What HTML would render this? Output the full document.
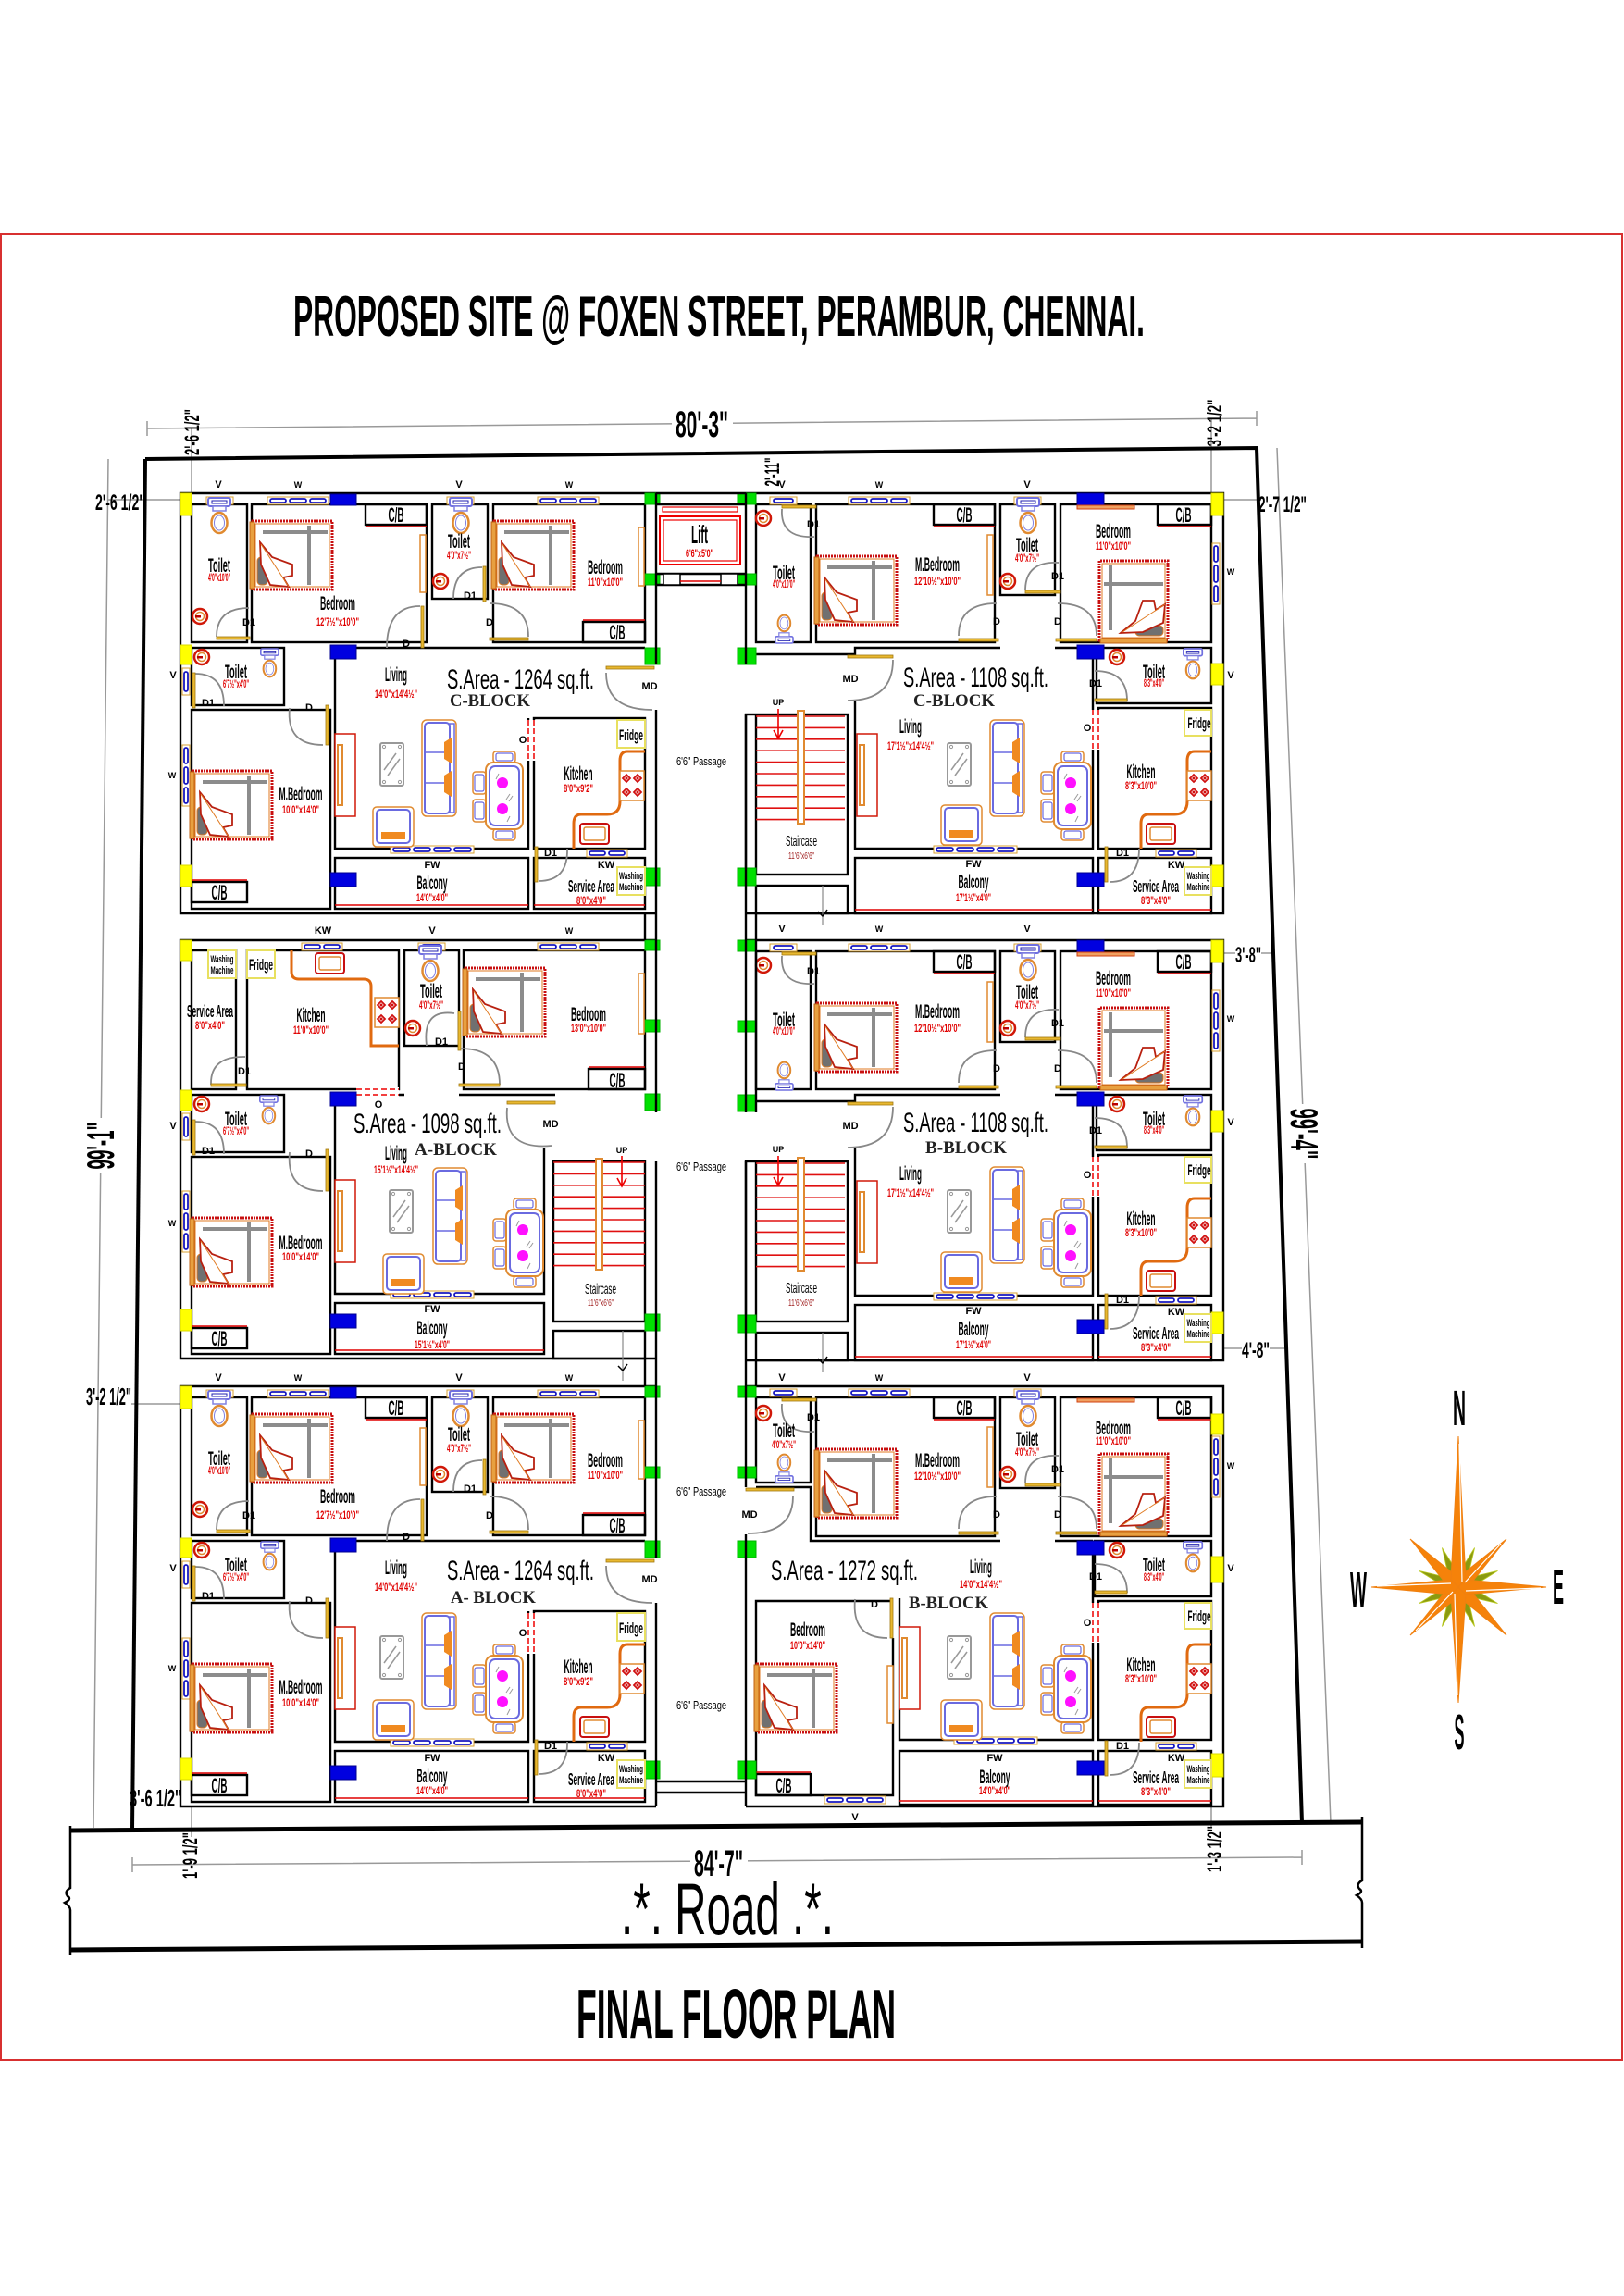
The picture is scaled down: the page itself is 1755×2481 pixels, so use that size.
<!DOCTYPE html>
<html><head><meta charset="utf-8"><title>Final Floor Plan</title>
<style>html,body{margin:0;padding:0;background:#fff}svg{display:block}</style>
</head><body>
<svg xmlns="http://www.w3.org/2000/svg" xmlns:xlink="http://www.w3.org/1999/xlink" width="1755" height="2481" viewBox="0 0 1755 2481">
<style>
text{font-family:"Liberation Sans",sans-serif}
.w{fill:none;stroke:#000;stroke-width:2.4}
.lb{font-weight:bold;font-size:21px;text-anchor:middle;fill:#000}
.rd{font-weight:bold;font-size:12px;text-anchor:middle;fill:#e00000}
.sm{font-weight:bold;font-size:11px;text-anchor:middle;fill:#000}
.sa{font-size:30px;fill:#000}
.bk{font-family:"Liberation Serif",serif;font-weight:bold;font-size:19px;fill:#222}
.cb{font-weight:bold;font-size:22px;text-anchor:middle;fill:#000}
.dm{font-weight:bold;fill:#000}
.dl{fill:#e8b830;stroke:#a07810;stroke-width:.8}
.da{fill:none;stroke:#888;stroke-width:1.8}
.gy{stroke:#999;stroke-width:1.5;fill:none}
.yel{fill:#ffff00;stroke:#d8d800}
.grn{fill:#00e000;stroke:#00b000}
.blu{fill:#0000e0;stroke:#000090}
.rl{stroke:#e00000;stroke-width:1.5}
.wb{fill:#fff;stroke:#e08a30;stroke-width:1.5}
.bx{fill:#fff;stroke:#e8e060;stroke-width:2}
.ct{fill:none;stroke:#e06a10;stroke-width:3}
.tr{stroke:#e01010;stroke-width:1.6;fill:none}
</style>
<defs>
<g id="bedL">
<rect x="1" y="1" width="86" height="74" fill="#fff" stroke="#c81010" stroke-width="3" stroke-dasharray="2 1"/>
<rect x="4" y="4" width="80" height="68" fill="none" stroke="#e07a20" stroke-width="1"/>
<line x1="12" y1="13" x2="82" y2="13" stroke="#8c8c8c" stroke-width="4"/>
<line x1="62" y1="6" x2="62" y2="70" stroke="#8c8c8c" stroke-width="4"/>
<rect x="6" y="40" width="11" height="30" rx="4" fill="#707070" stroke="#e07a20" stroke-width="1"/>
<path d="M9 24 L22 40 L44 48 L44 60 L34 62 L40 72 L20 70 L10 48 Z" fill="#fff" stroke="#b82010" stroke-width="1.8"/>
<line x1="10" y1="26" x2="40" y2="72" stroke="#e07a20" stroke-width="1"/>
<rect x="-2" y="2" width="5" height="72" fill="#e8a040" stroke="#c06010" stroke-width="1"/>
</g>
<g id="wc">
<rect x="1" y="0" width="24" height="9" rx="2" fill="#fff" stroke="#7070e0" stroke-width="2"/>
<rect x="5" y="3" width="16" height="3" fill="none" stroke="#2020b0" stroke-width="1"/>
<rect x="6" y="9" width="14" height="5" fill="#fff" stroke="#8080e0" stroke-width="1.5"/>
<ellipse cx="13" cy="27" rx="8.5" ry="11" fill="#fff" stroke="#e08a30" stroke-width="2.5"/>
<ellipse cx="13" cy="27" rx="5.5" ry="8" fill="none" stroke="#8080e0" stroke-width="1"/>
</g>
<g id="bs">
<circle cx="9" cy="9" r="8" fill="#fff" stroke="#d01808" stroke-width="2.5"/>
<circle cx="9" cy="9" r="4.5" fill="none" stroke="#e08a30" stroke-width="1.5"/>
<rect x="4" y="8" width="6" height="2.5" fill="#b00"/>
</g>
<g id="sofa">
<rect x="0" y="0" width="37" height="104" rx="5" fill="#fff" stroke="#e08a30" stroke-width="1.5"/>
<rect x="3" y="3" width="27" height="98" rx="4" fill="none" stroke="#6a6ae0" stroke-width="2"/>
<line x1="3" y1="35" x2="30" y2="35" stroke="#6a6ae0" stroke-width="1.5"/>
<line x1="3" y1="68" x2="30" y2="68" stroke="#6a6ae0" stroke-width="1.5"/>
<rect x="30" y="4" width="5" height="96" fill="none" stroke="#6a6ae0" stroke-width="1.5"/>
<path d="M24 24 l8 -5 v28 l-8 -5 z M24 60 l8 -5 v28 l-8 -5 z" fill="#f08a20"/>
</g>
<g id="arm">
<rect x="0" y="0" width="44" height="43" rx="4" fill="#fff" stroke="#e08a30" stroke-width="1.5"/>
<rect x="4" y="3" width="36" height="36" rx="4" fill="none" stroke="#6a6ae0" stroke-width="2"/>
<rect x="9" y="27" width="26" height="8" fill="#f08a20"/>
</g>
<g id="ctb">
<rect x="1" y="1" width="25" height="46" rx="2" fill="#fff" stroke="#999" stroke-width="2"/>
<line x1="5" y1="30" x2="18" y2="12" stroke="#999" stroke-width="1.5"/>
<line x1="9" y1="36" x2="22" y2="18" stroke="#999" stroke-width="1.5"/>
<circle cx="5" cy="5" r="1.6" fill="none" stroke="#999"/><circle cx="22" cy="5" r="1.6" fill="none" stroke="#999"/>
<circle cx="5" cy="43" r="1.6" fill="none" stroke="#999"/><circle cx="22" cy="43" r="1.6" fill="none" stroke="#999"/>
</g>
<g id="dn">
<rect x="22" y="0" width="24" height="12" rx="3" fill="#fff" stroke="#e08a30" stroke-width="1.5"/>
<rect x="25" y="2" width="18" height="8" rx="2" fill="none" stroke="#6a6ae0" stroke-width="1.2"/>
<rect x="22" y="84" width="24" height="12" rx="3" fill="#fff" stroke="#e08a30" stroke-width="1.5"/>
<rect x="25" y="86" width="18" height="8" rx="2" fill="none" stroke="#6a6ae0" stroke-width="1.2"/>
<rect x="0" y="22" width="14" height="24" rx="3" fill="#fff" stroke="#e08a30" stroke-width="1.5"/>
<rect x="2" y="25" width="10" height="18" rx="2" fill="none" stroke="#6a6ae0" stroke-width="1.2"/>
<rect x="0" y="52" width="14" height="24" rx="3" fill="#fff" stroke="#e08a30" stroke-width="1.5"/>
<rect x="2" y="55" width="10" height="18" rx="2" fill="none" stroke="#6a6ae0" stroke-width="1.2"/>
<rect x="14" y="12" width="40" height="72" rx="8" fill="#fff" stroke="#e08a30" stroke-width="2"/>
<rect x="18" y="16" width="32" height="64" rx="6" fill="none" stroke="#6a6ae0" stroke-width="2"/>
<line x1="28" y1="24" x2="25" y2="30" stroke="#999"/><line x1="40" y1="46" x2="36" y2="52" stroke="#999"/><line x1="43" y1="48" x2="39" y2="54" stroke="#999"/><line x1="40" y1="70" x2="37" y2="76" stroke="#999"/>
<circle cx="32" cy="34" r="6" fill="#ff10ff"/>
<circle cx="32" cy="62" r="6" fill="#ff10ff"/>
</g>
<g id="tv">
<rect x="0" y="0" width="22" height="89" fill="#fff" stroke="#d01808" stroke-width="1.5"/>
<rect x="3" y="12" width="5" height="65" fill="#fff" stroke="#e08a30" stroke-width="2"/>
</g>
<g id="st">
<rect x="0" y="0" width="26" height="32" fill="#fff" stroke="#e08a30" stroke-width="1.5"/>
<path d="M7 4 l4 4 -4 4 -4 -4z M19 4 l4 4 -4 4 -4 -4z M7 19 l4 4 -4 4 -4 -4z M19 19 l4 4 -4 4 -4 -4z" fill="none" stroke="#d01010" stroke-width="1.8"/>
<circle cx="7" cy="8" r="1.5" fill="#d01010"/><circle cx="19" cy="8" r="1.5" fill="#d01010"/><circle cx="7" cy="23" r="1.5" fill="#d01010"/><circle cx="19" cy="23" r="1.5" fill="#d01010"/>
</g>
<g id="sk">
<rect x="0" y="0" width="31" height="22" rx="3" fill="#fff" stroke="#c81010" stroke-width="2"/>
<rect x="4" y="4" width="23" height="14" rx="2" fill="none" stroke="#e08a30" stroke-width="1.5"/>
</g>
<g id="wn1"><rect x="0" y="0" width="29" height="8" fill="#fff" stroke="#d8a030"/><rect x="4" y="2" width="21" height="4" rx="2" fill="none" stroke="#1818c0" stroke-width="1.8"/></g>
<g id="wn2"><rect x="0" y="0" width="44" height="8" fill="#fff" stroke="#d8a030"/><rect x="3" y="2" width="17" height="4" rx="2" fill="none" stroke="#1818c0" stroke-width="1.8"/><rect x="24" y="2" width="17" height="4" rx="2" fill="none" stroke="#1818c0" stroke-width="1.8"/></g>
<g id="wn3"><rect x="0" y="0" width="66" height="8" fill="#fff" stroke="#d8a030"/><rect x="3" y="2" width="17" height="4" rx="2" fill="none" stroke="#1818c0" stroke-width="1.8"/><rect x="24" y="2" width="18" height="4" rx="2" fill="none" stroke="#1818c0" stroke-width="1.8"/><rect x="46" y="2" width="17" height="4" rx="2" fill="none" stroke="#1818c0" stroke-width="1.8"/></g>
<g id="wn4"><rect x="0" y="0" width="90" height="8" fill="#fff" stroke="#d8a030"/><rect x="3" y="2" width="18" height="4" rx="2" fill="none" stroke="#1818c0" stroke-width="1.8"/><rect x="25" y="2" width="18" height="4" rx="2" fill="none" stroke="#1818c0" stroke-width="1.8"/><rect x="47" y="2" width="18" height="4" rx="2" fill="none" stroke="#1818c0" stroke-width="1.8"/><rect x="69" y="2" width="18" height="4" rx="2" fill="none" stroke="#1818c0" stroke-width="1.8"/></g>
<g id="wv1"><rect x="0" y="0" width="8" height="29" fill="#fff" stroke="#d8a030"/><rect x="2" y="4" width="4" height="21" rx="2" fill="none" stroke="#1818c0" stroke-width="1.8"/></g>
<g id="wv3"><rect x="0" y="0" width="8" height="66" fill="#fff" stroke="#d8a030"/><rect x="2" y="3" width="4" height="17" rx="2" fill="none" stroke="#1818c0" stroke-width="1.8"/><rect x="2" y="24" width="4" height="18" rx="2" fill="none" stroke="#1818c0" stroke-width="1.8"/><rect x="2" y="46" width="4" height="17" rx="2" fill="none" stroke="#1818c0" stroke-width="1.8"/></g>

<!-- ===== Unit type A (row1 left; reused for row3 left) ===== -->
<g id="gA">
<path class="w" d="M709 533 H195 V987 H709"/>
<rect class="w" x="207" y="545" width="60" height="149"/>
<rect class="w" x="272" y="545" width="189" height="149"/>
<rect class="w" x="395" y="545" width="66" height="22"/><line class="rl" x1="395" y1="569" x2="461" y2="569"/>
<rect class="w" x="467" y="545" width="60" height="102"/>
<rect class="w" x="533" y="545" width="164" height="149"/>
<rect class="w" x="630" y="672" width="67" height="22"/><line class="rl" x1="630" y1="670" x2="697" y2="670"/>
<rect class="w" x="207" y="700" width="100" height="62"/>
<rect class="w" x="207" y="767" width="150" height="215"/>
<path class="w" d="M697 700 H362 V917 H571 V776"/>
<rect class="w" x="577" y="776" width="120" height="141"/>
<rect class="w" x="362" y="927" width="209" height="55"/>
<rect class="w" x="577" y="927" width="120" height="55"/>
<rect class="w" x="207" y="953" width="60" height="22"/><line class="rl" x1="207" y1="951" x2="267" y2="951"/>
<line class="rl" x1="362" y1="978" x2="571" y2="978"/><line class="rl" x1="577" y1="978" x2="697" y2="978"/>
<rect x="568" y="778" width="12" height="44" fill="#fff"/>
<path d="M571 778 V822 M577 778 V822" stroke="#e00" stroke-width="1.5" stroke-dasharray="6 3"/>
<path class="da" d="M269 657 Q234 657 234 688"/><rect class="dl" x="234" y="688" width="36" height="3"/>
<path class="da" d="M454 655 Q418 655 418 700"/><rect class="dl" x="455" y="655" width="3" height="45"/>
<path class="da" d="M529 652 Q571 652 571 688"/><rect class="dl" x="529" y="689" width="42" height="3"/>
<path class="da" d="M521 613 Q490 613 490 647"/><rect class="dl" x="522" y="612" width="3" height="38"/>
<path class="da" d="M211 728 Q242 728 242 763"/><rect class="dl" x="208" y="727" width="3" height="38"/>
<path class="da" d="M313 765 Q309 805 349 805"/><rect class="dl" x="352" y="762" width="3" height="43"/>
<path class="da" d="M655 727 Q655 767 705 767"/><rect class="dl" x="655" y="720" width="52" height="3"/>
<path class="da" d="M613 917 Q614 952 582 952"/><rect class="dl" x="578" y="915" width="3" height="38"/>
<rect class="yel" x="195" y="533" width="12" height="24"/>
<rect class="yel" x="195" y="697" width="12" height="21"/>
<rect class="yel" x="195" y="935" width="12" height="23"/>
<rect class="grn" x="697" y="533" width="16" height="12"/>
<rect class="grn" x="697" y="620" width="16" height="12"/>
<rect class="grn" x="697" y="700" width="16" height="18"/>
<rect class="grn" x="697" y="938" width="16" height="19"/>
<rect class="blu" x="357" y="534" width="28" height="12"/>
<rect class="blu" x="357" y="697" width="28" height="15"/>
<rect class="blu" x="357" y="943" width="28" height="15"/>
<use xlink:href="#wn1" x="223" y="537"/><use xlink:href="#wn3" x="289" y="537"/>
<use xlink:href="#wn1" x="483" y="537"/><use xlink:href="#wn3" x="581" y="537"/>
<use xlink:href="#wn4" x="422" y="914"/><use xlink:href="#wn2" x="634" y="918"/>
<use xlink:href="#wv1" x="197" y="722"/><use xlink:href="#wv3" x="197" y="805"/>
<use xlink:href="#bedL" x="272" y="562"/>
<use xlink:href="#bedL" x="533" y="562"/>
<use xlink:href="#bedL" x="207" y="832"/>
<use xlink:href="#wc" x="224" y="538"/><use xlink:href="#bs" x="207" y="657"/>
<use xlink:href="#wc" x="485" y="538"/><use xlink:href="#bs" x="467" y="619"/>
<use xlink:href="#wc" transform="translate(281,701) scale(.8)"/><use xlink:href="#bs" x="209" y="701"/>
<rect class="wb" x="454" y="578" width="6" height="62"/><rect class="wb" x="690" y="570" width="6" height="63"/>
<use xlink:href="#tv" x="362" y="793"/>
<use xlink:href="#ctb" x="410" y="802"/>
<use xlink:href="#sofa" x="456" y="778"/>
<use xlink:href="#arm" x="403" y="872"/>
<use xlink:href="#dn" x="511" y="812"/>
<path class="ct" d="M697 812 H678 Q670 812 670 822 V866 Q670 880 656 880 H628 Q620 880 620 890 V917"/>
<use xlink:href="#st" x="670" y="833"/><use xlink:href="#sk" x="627" y="890"/>
<rect class="bx" x="667" y="778" width="30" height="30"/>
<rect class="bx" x="667" y="937" width="30" height="30"/>
</g>

<!-- ===== Unit type B (row1 right; reused for row2 right) ===== -->
<g id="gB">
<path class="w" d="M806 533 H1322 V987 H806"/>
<rect class="w" x="817" y="545" width="59" height="149"/>
<rect class="w" x="882" y="545" width="193" height="149"/>
<rect class="w" x="1009" y="545" width="66" height="22"/><line class="rl" x1="1009" y1="569" x2="1075" y2="569"/>
<rect class="w" x="1081" y="545" width="59" height="98"/>
<rect class="w" x="1146" y="545" width="163" height="149"/>
<rect class="w" x="1251" y="545" width="58" height="22"/><line class="rl" x1="1251" y1="569" x2="1309" y2="569"/>
<path class="w" d="M817 707 H924 V700 H1081 M1140 700 H1181"/>
<path class="w" d="M924 757 V917 H1181 V700"/>
<rect class="w" x="1185" y="700" width="124" height="60"/>
<rect class="w" x="1187" y="765" width="122" height="152"/>
<rect class="w" x="806" y="772" width="110" height="173"/>
<line class="w" x1="817" y1="772" x2="817" y2="945"/>
<rect class="w" x="924" y="927" width="257" height="60"/>
<rect class="w" x="1187" y="927" width="122" height="60"/>
<rect class="w" x="817" y="957" width="99" height="30"/>
<line x1="889" y1="957" x2="889" y2="1000" stroke="#888" stroke-width="1.2"/><path d="M884 985 L889 990 L894 983" stroke="#000" stroke-width="1.5" fill="none"/>
<line class="rl" x1="924" y1="983" x2="1181" y2="983"/><line class="rl" x1="1187" y1="983" x2="1309" y2="983"/>
<path class="tr" d="M817 774 H913 M817 786.4 H913 M817 798.8 H913 M817 811.2 H913 M817 823.6 H913 M817 836 H913 M817 848.4 H913 M817 860.8 H913 M817 873.2 H913 M817 885.6 H913"/>
<rect x="862" y="768" width="7" height="122" fill="#fff" stroke="#e08a30" stroke-width="2"/>
<path d="M841 766 V797 M836 789 L841 798 L846 789" stroke="#e00" stroke-width="1.6" fill="none"/>
<rect x="1179" y="767" width="10" height="43" fill="#fff"/>
<path d="M1181 767 V810 M1187 767 V810" stroke="#e00" stroke-width="1.5" stroke-dasharray="6 3"/>
<path class="da" d="M845 550 Q843 582 880 580"/><rect class="dl" x="845" y="546" width="37" height="3"/>
<path class="da" d="M1077 652 Q1036 652 1036 687"/><rect class="dl" x="1036" y="690" width="43" height="3"/>
<path class="da" d="M1144 608 Q1108 606 1108 638"/><rect class="dl" x="1108" y="638" width="38" height="3"/>
<path class="da" d="M1143 652 Q1185 652 1185 687"/><rect class="dl" x="1141" y="690" width="44" height="3"/>
<path class="da" d="M965 713 Q965 757 916 757"/><rect class="dl" x="916" y="708" width="49" height="3"/>
<path class="da" d="M1183 725 Q1218 725 1218 757"/><rect class="dl" x="1183" y="755" width="35" height="3"/>
<path class="da" d="M1231 917 Q1231 953 1199 953"/><rect class="dl" x="1194" y="915" width="3" height="38"/>
<rect class="grn" x="797" y="533" width="20" height="12"/>
<rect class="grn" x="797" y="620" width="20" height="12"/>
<rect class="grn" x="797" y="700" width="20" height="18"/>
<rect class="grn" x="797" y="938" width="20" height="19"/>
<rect class="yel" x="1309" y="533" width="13" height="24"/>
<rect class="yel" x="1309" y="717" width="13" height="23"/>
<rect class="yel" x="1309" y="935" width="13" height="23"/>
<rect class="blu" x="1164" y="533" width="29" height="15"/>
<rect class="blu" x="1164" y="697" width="29" height="15"/>
<rect class="blu" x="1164" y="943" width="29" height="15"/>
<use xlink:href="#wn1" x="832" y="537"/><use xlink:href="#wn3" x="917" y="537"/><use xlink:href="#wn1" x="1096" y="537"/>
<use xlink:href="#wv3" x="1310" y="587"/>
<use xlink:href="#wn4" x="1009" y="914"/><use xlink:href="#wn2" x="1249" y="918"/>
<use xlink:href="#wc" transform="translate(837,695) scale(.8,-.8)"/><use xlink:href="#bs" x="816" y="551"/>
<use xlink:href="#bedL" x="882" y="600"/>
<use xlink:href="#wc" x="1098" y="538"/><use xlink:href="#bs" x="1080" y="619"/>
<use xlink:href="#bedL" transform="translate(1187,693) rotate(-90)"/>
<use xlink:href="#wc" transform="translate(1278,701) scale(.85)"/><use xlink:href="#bs" x="1198" y="701"/>
<rect class="wb" x="1067" y="578" width="6" height="65"/>
<rect x="1164" y="546" width="62" height="4" fill="#f0a060" stroke="#d04010"/>
<use xlink:href="#tv" x="926" y="793"/>
<use xlink:href="#ctb" x="1023" y="802"/>
<use xlink:href="#sofa" x="1070" y="778"/>
<use xlink:href="#arm" x="1017" y="870"/>
<use xlink:href="#dn" x="1125" y="812"/>
<path class="ct" d="M1309 812 H1291 Q1283 812 1283 822 V866 Q1283 880 1269 880 H1241 Q1233 880 1233 890 V917"/>
<use xlink:href="#st" x="1283" y="833"/><use xlink:href="#sk" x="1239" y="890"/>
<rect class="bx" x="1280" y="767" width="29" height="28"/>
<rect class="bx" x="1280" y="937" width="29" height="30"/>
</g>
</defs>

<rect x="0" y="0" width="1755" height="2481" fill="#fff"/>
<rect x="1" y="253" width="1752" height="1973" fill="none" stroke="#d83030" stroke-width="2"/>

<!-- Title -->
<text x="317" y="363" font-size="62" font-weight="bold" textLength="920" lengthAdjust="spacingAndGlyphs">PROPOSED SITE @ FOXEN STREET, PERAMBUR, CHENNAI.</text>

<!-- plot outline & dims -->
<path class="gy" d="M159 463 L1358 452 M159 455 V471 M1358 444 V460"/>
<rect x="726" y="440" width="66" height="36" fill="#fff"/>
<text class="dm" x="730" y="472" font-size="40" textLength="57" lengthAdjust="spacingAndGlyphs">80'-3"</text>
<path class="gy" d="M117 496 L101 1975 M1380 484 L1438 1970"/>
<path class="gy" d="M117 540 H194 M1322 540 H1360 M207 463 V533 M1309 452 V533 M1322 1030 H1335 M1363 1030 H1377 M1322 1457 H1342 M1372 1457 H1391 M142 1517 H195 M207 1952 V1985 M1309 1952 V1975"/>
<path d="M157 496 L1358 484 L1407 1970" stroke="#000" stroke-width="4" fill="none"/>
<path d="M157 496 L143 1977" stroke="#000" stroke-width="4" fill="none"/>
<rect x="90" y="1208" width="36" height="60" fill="#fff"/>
<text class="dm" transform="translate(123,1238) rotate(-90)" font-size="42" text-anchor="middle" textLength="51" lengthAdjust="spacingAndGlyphs">99'-1"</text>
<rect x="1393" y="1193" width="34" height="64" fill="#fff"/>
<text class="dm" transform="translate(1395,1225) rotate(90)" font-size="42" text-anchor="middle" textLength="55" lengthAdjust="spacingAndGlyphs">99'-4"</text>
<text class="dm" x="103" y="551" font-size="24" textLength="54" lengthAdjust="spacingAndGlyphs">2'-6 1/2"</text>
<text class="dm" x="1360" y="553" font-size="24" textLength="52" lengthAdjust="spacingAndGlyphs">2'-7 1/2"</text>
<text class="dm" transform="translate(215,467) rotate(-90)" font-size="22" text-anchor="middle" textLength="50" lengthAdjust="spacingAndGlyphs">2'-6 1/2"</text>
<text class="dm" transform="translate(1320,457) rotate(-90)" font-size="22" text-anchor="middle" textLength="51" lengthAdjust="spacingAndGlyphs">3'-2 1/2"</text>
<text class="dm" transform="translate(842,510) rotate(-90)" font-size="22" text-anchor="middle" textLength="31" lengthAdjust="spacingAndGlyphs">2'-11"</text>
<text class="dm" x="1335" y="1040" font-size="24" textLength="28" lengthAdjust="spacingAndGlyphs">3'-8"</text>
<text class="dm" x="1342" y="1467" font-size="24" textLength="30" lengthAdjust="spacingAndGlyphs">4'-8"</text>
<text class="dm" x="93" y="1518" font-size="26" textLength="49" lengthAdjust="spacingAndGlyphs">3'-2 1/2"</text>
<text class="dm" x="140" y="1952" font-size="26" textLength="56" lengthAdjust="spacingAndGlyphs">3'-6 1/2"</text>

<!-- Units -->
<use xlink:href="#gA"/>
<use xlink:href="#gA" y="965"/>
<use xlink:href="#gB"/>
<use xlink:href="#gB" y="483"/>

<!-- Unit C (row2 left) -->
<g>
<path class="w" d="M709 1016 H195 V1468 H709"/>
<rect class="w" x="207" y="1027" width="48" height="150"/>
<rect class="w" x="267" y="1027" width="164" height="150"/>
<rect class="w" x="437" y="1027" width="59" height="103"/>
<rect class="w" x="501" y="1027" width="196" height="150"/>
<rect class="w" x="636" y="1155" width="61" height="22"/><line class="rl" x1="636" y1="1153" x2="697" y2="1153"/>
<rect class="w" x="207" y="1183" width="100" height="62"/>
<rect class="w" x="207" y="1250" width="150" height="213"/>
<rect class="w" x="207" y="1435" width="60" height="22"/><line class="rl" x1="207" y1="1433" x2="267" y2="1433"/>
<path class="w" d="M362 1183 H437 M496 1183 H600 M362 1183 V1398 H588 V1240"/>
<rect class="w" x="598" y="1255" width="99" height="173"/>
<rect class="w" x="362" y="1408" width="226" height="55"/>
<line class="rl" x1="362" y1="1459" x2="588" y2="1459"/>
<rect class="w" x="598" y="1438" width="99" height="30"/>
<line x1="673" y1="1438" x2="673" y2="1492" stroke="#888" stroke-width="1.2"/><path d="M668 1476 L673 1481 L678 1474" stroke="#000" stroke-width="1.5" fill="none"/>
<path class="tr" d="M598 1256 H697 M598 1268.4 H697 M598 1280.8 H697 M598 1293.2 H697 M598 1305.6 H697 M598 1318 H697 M598 1330.4 H697 M598 1342.8 H697 M598 1355.2 H697 M598 1367.6 H697"/>
<rect x="644" y="1252" width="7" height="120" fill="#fff" stroke="#e08a30" stroke-width="2"/>
<path d="M672 1249 V1281 M667 1273 L672 1282 L677 1273" stroke="#e00" stroke-width="1.6" fill="none"/>
<rect x="385" y="1175" width="46" height="10" fill="#fff"/>
<path d="M385 1177 H431 M385 1183 H431" stroke="#e00" stroke-width="1.5" stroke-dasharray="6 3"/>
<path class="da" d="M265 1142 Q227 1141 228 1172"/><rect class="dl" x="228" y="1171" width="38" height="3"/>
<path class="da" d="M491 1095 Q456 1090 461 1130"/><rect class="dl" x="495" y="1093" width="3" height="42"/>
<path class="da" d="M498 1133 Q540 1133 540 1172"/><rect class="dl" x="496" y="1171" width="44" height="3"/>
<path class="da" d="M548 1197 Q544 1243 596 1238"/><rect class="dl" x="548" y="1190" width="52" height="3"/>
<path class="da" d="M211 1212 Q242 1212 242 1247"/><rect class="dl" x="208" y="1210" width="3" height="38"/>
<path class="da" d="M313 1245 Q309 1287 349 1287"/><rect class="dl" x="352" y="1242" width="3" height="45"/>
<rect class="yel" x="195" y="1016" width="12" height="22"/>
<rect class="yel" x="195" y="1178" width="12" height="22"/>
<rect class="yel" x="195" y="1415" width="12" height="23"/>
<rect class="grn" x="697" y="1016" width="16" height="11"/>
<rect class="grn" x="697" y="1102" width="16" height="13"/>
<rect class="grn" x="697" y="1182" width="16" height="18"/>
<rect class="grn" x="697" y="1420" width="16" height="18"/>
<rect class="blu" x="357" y="1180" width="28" height="15"/>
<rect class="blu" x="357" y="1420" width="28" height="15"/>
<use xlink:href="#wn2" x="326" y="1019"/><use xlink:href="#wn1" x="452" y="1019"/><use xlink:href="#wn3" x="581" y="1019"/>
<use xlink:href="#wv1" x="197" y="1203"/><use xlink:href="#wv3" x="197" y="1287"/>
<use xlink:href="#wn4" x="422" y="1395"/>
<path class="ct" d="M315 1027 V1050 Q315 1058 323 1058 H393 Q401 1058 401 1066 V1130 H431"/>
<use xlink:href="#sk" x="341" y="1030"/><use xlink:href="#st" x="405" y="1078"/>
<rect class="bx" x="225" y="1027" width="30" height="30"/>
<rect class="bx" x="267" y="1027" width="30" height="30"/>
<use xlink:href="#wc" x="452" y="1022"/><use xlink:href="#bs" x="437" y="1102"/>
<use xlink:href="#bedL" x="502" y="1045"/>
<rect class="wb" x="690" y="1052" width="6" height="65"/>
<use xlink:href="#wc" transform="translate(280,1184) scale(.8)"/><use xlink:href="#bs" x="209" y="1184"/>
<use xlink:href="#bedL" x="207" y="1315"/>
<use xlink:href="#tv" x="362" y="1275"/>
<use xlink:href="#ctb" x="420" y="1285"/>
<use xlink:href="#sofa" x="468" y="1262"/>
<use xlink:href="#arm" x="414" y="1355"/>
<use xlink:href="#dn" x="533" y="1295"/>
</g>

<!-- Unit D (row3 right) -->
<g>
<path class="w" d="M806 1498 H1322 V1952 H806"/>
<rect class="w" x="817" y="1510" width="59" height="92"/>
<rect class="w" x="882" y="1510" width="193" height="150"/>
<rect class="w" x="1009" y="1510" width="66" height="22"/><line class="rl" x1="1009" y1="1534" x2="1075" y2="1534"/>
<rect class="w" x="1081" y="1510" width="59" height="98"/>
<rect class="w" x="1146" y="1510" width="163" height="150"/>
<rect class="w" x="1251" y="1510" width="58" height="22"/><line class="rl" x1="1251" y1="1534" x2="1309" y2="1534"/>
<path class="w" d="M817 1607 H876 V1665 H1081 M1140 1665 H1181"/>
<rect class="w" x="1183" y="1665" width="126" height="60"/>
<path class="w" d="M965 1770 V1940 H817 V1730 H965"/>
<path class="w" d="M972 1727 V1880 H1181 V1665"/>
<rect class="w" x="1187" y="1730" width="122" height="150"/>
<rect class="w" x="972" y="1892" width="209" height="58"/>
<rect class="w" x="1187" y="1892" width="122" height="58"/>
<rect class="w" x="817" y="1917" width="59" height="23"/><line class="rl" x1="817" y1="1915" x2="876" y2="1915"/>
<line class="rl" x1="972" y1="1946" x2="1181" y2="1946"/><line class="rl" x1="1187" y1="1946" x2="1309" y2="1946"/>
<rect x="1179" y="1732" width="10" height="43" fill="#fff"/>
<path d="M1181 1732 V1775 M1187 1732 V1775" stroke="#e00" stroke-width="1.5" stroke-dasharray="6 3"/>
<path class="da" d="M845 1517 Q843 1549 880 1547"/><rect class="dl" x="845" y="1511" width="37" height="3"/>
<path class="da" d="M857 1617 Q857 1657 808 1657"/><rect class="dl" x="806" y="1608" width="52" height="3"/>
<path class="da" d="M1077 1617 Q1036 1617 1036 1652"/><rect class="dl" x="1036" y="1655" width="43" height="3"/>
<path class="da" d="M1144 1573 Q1108 1571 1108 1603"/><rect class="dl" x="1108" y="1603" width="38" height="3"/>
<path class="da" d="M1143 1617 Q1185 1617 1185 1652"/><rect class="dl" x="1141" y="1655" width="44" height="3"/>
<path class="da" d="M1183 1690 Q1218 1690 1218 1721"/><rect class="dl" x="1183" y="1719" width="35" height="3"/>
<path class="da" d="M924 1728 Q920 1770 959 1770"/><rect class="dl" x="962" y="1727" width="3" height="43"/>
<path class="da" d="M1231 1883 Q1231 1918 1199 1918"/><rect class="dl" x="1194" y="1881" width="3" height="38"/>
<rect class="grn" x="797" y="1498" width="20" height="12"/>
<rect class="grn" x="797" y="1585" width="20" height="12"/>
<rect class="grn" x="797" y="1665" width="20" height="18"/>
<rect class="grn" x="797" y="1903" width="20" height="19"/>
<rect class="yel" x="1309" y="1528" width="13" height="22"/>
<rect class="yel" x="1309" y="1682" width="13" height="28"/>
<rect class="yel" x="1309" y="1895" width="13" height="25"/>
<rect class="blu" x="1164" y="1665" width="29" height="15"/>
<rect class="blu" x="1164" y="1903" width="29" height="15"/>
<use xlink:href="#wn1" x="832" y="1501"/><use xlink:href="#wn3" x="917" y="1501"/><use xlink:href="#wn1" x="1096" y="1501"/>
<use xlink:href="#wv3" x="1310" y="1552"/>
<use xlink:href="#wn4" x="1031" y="1877"/><use xlink:href="#wn2" x="1249" y="1883"/>
<use xlink:href="#wn3" x="891" y="1941"/>
<use xlink:href="#wc" transform="translate(837,1602) scale(.8,-.8)"/><use xlink:href="#bs" x="816" y="1518"/>
<use xlink:href="#bedL" x="882" y="1565"/>
<use xlink:href="#wc" x="1098" y="1503"/><use xlink:href="#bs" x="1080" y="1584"/>
<use xlink:href="#bedL" transform="translate(1187,1658) rotate(-90)"/>
<use xlink:href="#wc" transform="translate(1278,1666) scale(.85)"/><use xlink:href="#bs" x="1198" y="1666"/>
<use xlink:href="#bedL" x="817" y="1797"/>
<rect class="wb" x="1067" y="1542" width="6" height="65"/>
<rect class="wb" x="959" y="1800" width="6" height="62"/>
<rect x="1164" y="1511" width="62" height="4" fill="#f0a060" stroke="#d04010"/>
<use xlink:href="#tv" x="972" y="1758"/>
<use xlink:href="#ctb" x="1023" y="1767"/>
<use xlink:href="#sofa" x="1070" y="1743"/>
<use xlink:href="#arm" x="1017" y="1837"/>
<use xlink:href="#dn" x="1125" y="1777"/>
<path class="ct" d="M1309 1777 H1291 Q1283 1777 1283 1787 V1831 Q1283 1845 1269 1845 H1241 Q1233 1845 1233 1855 V1882"/>
<use xlink:href="#st" x="1283" y="1798"/><use xlink:href="#sk" x="1239" y="1855"/>
<rect class="bx" x="1280" y="1732" width="29" height="28"/>
<rect class="bx" x="1280" y="1902" width="29" height="30"/>
</g>

<!-- passage & common walls -->
<path class="w" d="M709 533 V718 M709 767 V1202 M709 1255 V1683 M709 1732 V1952 M697 987 V1016 M697 1468 V1498"/>
<path class="w" d="M806 533 V718 M806 772 V1202 M806 1255 V1607 M806 1658 V1952 M817 987 V1016 M817 1468 V1498 M817 1016 V1202"/>
<path class="w" d="M709 533 H806 M709 545 H806 M709 620 H806 M709 632 H806 M709 1925 H806 M709 1937 H806"/>
<rect x="716" y="548" width="81" height="5" fill="#fff" stroke="#e00" stroke-width="1.2"/>
<rect x="713" y="558" width="87" height="52" fill="#fff" stroke="#e00" stroke-width="2"/>
<rect x="717" y="562" width="79" height="44" fill="none" stroke="#e00" stroke-width="1.2"/>
<rect x="717" y="620" width="18" height="12" fill="#fff" stroke="#000" stroke-width="1.5"/>
<rect x="779" y="620" width="18" height="12" fill="#fff" stroke="#000" stroke-width="1.5"/>
<line class="rl" x1="735" y1="628" x2="779" y2="628"/>
<text class="lb" x="756" y="587" font-size="28" style="font-size:28px" textLength="18" lengthAdjust="spacingAndGlyphs">Lift</text>
<text class="rd" x="756" y="602" textLength="30" lengthAdjust="spacingAndGlyphs">6'6"x5'0"</text>
<g font-size="13" text-anchor="middle">
<text x="758" y="827" textLength="54" lengthAdjust="spacingAndGlyphs">6'6" Passage</text>
<text x="758" y="1265" textLength="54" lengthAdjust="spacingAndGlyphs">6'6" Passage</text>
<text x="758" y="1616" textLength="54" lengthAdjust="spacingAndGlyphs">6'6" Passage</text>
<text x="758" y="1847" textLength="54" lengthAdjust="spacingAndGlyphs">6'6" Passage</text>
</g>

<!-- Labels: A row1 (C-BLOCK) -->
<g>
<text class="lb" x="237" y="618" textLength="24" lengthAdjust="spacingAndGlyphs">Toilet</text>
<text class="rd" x="237" y="628" textLength="24" lengthAdjust="spacingAndGlyphs">4'0"x10'0"</text>
<text class="lb" x="365" y="659" textLength="38" lengthAdjust="spacingAndGlyphs">Bedroom</text>
<text class="rd" x="365" y="676" textLength="46" lengthAdjust="spacingAndGlyphs">12'7½"x10'0"</text>
<text class="lb" x="496" y="592" textLength="24" lengthAdjust="spacingAndGlyphs">Toilet</text>
<text class="rd" x="496" y="604" textLength="26" lengthAdjust="spacingAndGlyphs">4'0"x7½"</text>
<text class="lb" x="654" y="620" textLength="38" lengthAdjust="spacingAndGlyphs">Bedroom</text>
<text class="rd" x="654" y="633" textLength="38" lengthAdjust="spacingAndGlyphs">11'0"x10'0"</text>
<text class="cb" x="428" y="564" textLength="17" lengthAdjust="spacingAndGlyphs">C/B</text>
<text class="cb" x="667" y="691" textLength="17" lengthAdjust="spacingAndGlyphs">C/B</text>
<text class="lb" x="255" y="733" textLength="24" lengthAdjust="spacingAndGlyphs">Toilet</text>
<text class="rd" x="255" y="743" textLength="28" lengthAdjust="spacingAndGlyphs">6'7½"x4'0"</text>
<text class="lb" x="428" y="736" textLength="24" lengthAdjust="spacingAndGlyphs">Living</text>
<text class="rd" x="428" y="754" textLength="46" lengthAdjust="spacingAndGlyphs">14'0"x14'4½"</text>
<text class="sa" x="483" y="744" textLength="159" lengthAdjust="spacingAndGlyphs">S.Area - 1264 sq.ft.</text>
<text class="bk" x="486" y="763" textLength="87" lengthAdjust="spacingAndGlyphs">C-BLOCK</text>
<text class="lb" x="325" y="865" textLength="47" lengthAdjust="spacingAndGlyphs">M.Bedroom</text>
<text class="rd" x="325" y="879" textLength="40" lengthAdjust="spacingAndGlyphs">10'0"x14'0"</text>
<text class="lb" x="625" y="843" textLength="31" lengthAdjust="spacingAndGlyphs">Kitchen</text>
<text class="rd" x="625" y="856" textLength="32" lengthAdjust="spacingAndGlyphs">8'0"x9'2"</text>
<text class="lb" x="682" y="800" style="font-size:17px" textLength="26" lengthAdjust="spacingAndGlyphs">Fridge</text>
<text class="lb" x="467" y="961" textLength="33" lengthAdjust="spacingAndGlyphs">Balcony</text>
<text class="rd" x="467" y="974" textLength="34" lengthAdjust="spacingAndGlyphs">14'0"x4'0"</text>
<text class="lb" x="639" y="964" style="font-size:18px" textLength="50" lengthAdjust="spacingAndGlyphs">Service Area</text>
<text class="rd" x="639" y="977" textLength="32" lengthAdjust="spacingAndGlyphs">8'0"x4'0"</text>
<text class="sm" x="682" y="950" textLength="26" lengthAdjust="spacingAndGlyphs">Washing</text>
<text class="sm" x="682" y="962" textLength="26" lengthAdjust="spacingAndGlyphs">Machine</text>
<text class="cb" x="237" y="972" textLength="17" lengthAdjust="spacingAndGlyphs">C/B</text>
<text class="sm" x="269" y="676">D1</text><text class="sm" x="439" y="699">D</text><text class="sm" x="529" y="676">D</text><text class="sm" x="508" y="647">D1</text>
<text class="sm" x="702" y="745">MD</text><text class="sm" x="225" y="763">D1</text><text class="sm" x="334" y="768">D</text><text class="sm" x="565" y="803">O</text>
<text class="sm" x="595" y="925">D1</text><text class="sm" x="655" y="938">KW</text><text class="sm" x="467" y="938">FW</text>
<text class="sm" x="236" y="527">V</text><text class="sm" x="322" y="527" style="font-size:9px">W</text><text class="sm" x="496" y="527">V</text><text class="sm" x="615" y="527" style="font-size:9px">W</text>
<text class="sm" x="187" y="733">V</text><text class="sm" x="186" y="841" style="font-size:9px">W</text>
</g>

<!-- Labels: A row3 (A- BLOCK) -->
<g transform="translate(0,965)">
<text class="lb" x="237" y="618" textLength="24" lengthAdjust="spacingAndGlyphs">Toilet</text>
<text class="rd" x="237" y="628" textLength="24" lengthAdjust="spacingAndGlyphs">4'0"x10'0"</text>
<text class="lb" x="365" y="659" textLength="38" lengthAdjust="spacingAndGlyphs">Bedroom</text>
<text class="rd" x="365" y="676" textLength="46" lengthAdjust="spacingAndGlyphs">12'7½"x10'0"</text>
<text class="lb" x="496" y="592" textLength="24" lengthAdjust="spacingAndGlyphs">Toilet</text>
<text class="rd" x="496" y="604" textLength="26" lengthAdjust="spacingAndGlyphs">4'0"x7½"</text>
<text class="lb" x="654" y="620" textLength="38" lengthAdjust="spacingAndGlyphs">Bedroom</text>
<text class="rd" x="654" y="633" textLength="38" lengthAdjust="spacingAndGlyphs">11'0"x10'0"</text>
<text class="cb" x="428" y="564" textLength="17" lengthAdjust="spacingAndGlyphs">C/B</text>
<text class="cb" x="667" y="691" textLength="17" lengthAdjust="spacingAndGlyphs">C/B</text>
<text class="lb" x="255" y="733" textLength="24" lengthAdjust="spacingAndGlyphs">Toilet</text>
<text class="rd" x="255" y="743" textLength="28" lengthAdjust="spacingAndGlyphs">6'7½"x4'0"</text>
<text class="lb" x="428" y="736" textLength="24" lengthAdjust="spacingAndGlyphs">Living</text>
<text class="rd" x="428" y="754" textLength="46" lengthAdjust="spacingAndGlyphs">14'0"x14'4½"</text>
<text class="sa" x="483" y="742" textLength="159" lengthAdjust="spacingAndGlyphs">S.Area - 1264 sq.ft.</text>
<text class="bk" x="487" y="767" textLength="92" lengthAdjust="spacingAndGlyphs">A- BLOCK</text>
<text class="lb" x="325" y="865" textLength="47" lengthAdjust="spacingAndGlyphs">M.Bedroom</text>
<text class="rd" x="325" y="879" textLength="40" lengthAdjust="spacingAndGlyphs">10'0"x14'0"</text>
<text class="lb" x="625" y="843" textLength="31" lengthAdjust="spacingAndGlyphs">Kitchen</text>
<text class="rd" x="625" y="856" textLength="32" lengthAdjust="spacingAndGlyphs">8'0"x9'2"</text>
<text class="lb" x="682" y="800" style="font-size:17px" textLength="26" lengthAdjust="spacingAndGlyphs">Fridge</text>
<text class="lb" x="467" y="961" textLength="33" lengthAdjust="spacingAndGlyphs">Balcony</text>
<text class="rd" x="467" y="974" textLength="34" lengthAdjust="spacingAndGlyphs">14'0"x4'0"</text>
<text class="lb" x="639" y="964" style="font-size:18px" textLength="50" lengthAdjust="spacingAndGlyphs">Service Area</text>
<text class="rd" x="639" y="977" textLength="32" lengthAdjust="spacingAndGlyphs">8'0"x4'0"</text>
<text class="sm" x="682" y="950" textLength="26" lengthAdjust="spacingAndGlyphs">Washing</text>
<text class="sm" x="682" y="962" textLength="26" lengthAdjust="spacingAndGlyphs">Machine</text>
<text class="cb" x="237" y="972" textLength="17" lengthAdjust="spacingAndGlyphs">C/B</text>
<text class="sm" x="269" y="676">D1</text><text class="sm" x="439" y="699">D</text><text class="sm" x="529" y="676">D</text><text class="sm" x="508" y="647">D1</text>
<text class="sm" x="702" y="745">MD</text><text class="sm" x="225" y="763">D1</text><text class="sm" x="334" y="768">D</text><text class="sm" x="565" y="803">O</text>
<text class="sm" x="595" y="925">D1</text><text class="sm" x="655" y="938">KW</text><text class="sm" x="467" y="938">FW</text>
<text class="sm" x="236" y="527">V</text><text class="sm" x="322" y="527" style="font-size:9px">W</text><text class="sm" x="496" y="527">V</text><text class="sm" x="615" y="527" style="font-size:9px">W</text>
<text class="sm" x="187" y="733">V</text><text class="sm" x="186" y="841" style="font-size:9px">W</text>
</g>

<!-- Labels: B row1 (C-BLOCK) -->
<g>
<text class="lb" x="847" y="626" textLength="24" lengthAdjust="spacingAndGlyphs">Toilet</text>
<text class="rd" x="847" y="635" textLength="24" lengthAdjust="spacingAndGlyphs">4'0"x10'0"</text>
<text class="lb" x="1013" y="617" textLength="48" lengthAdjust="spacingAndGlyphs">M.Bedroom</text>
<text class="rd" x="1013" y="632" textLength="50" lengthAdjust="spacingAndGlyphs">12'10½"x10'0"</text>
<text class="lb" x="1110" y="596" textLength="24" lengthAdjust="spacingAndGlyphs">Toilet</text>
<text class="rd" x="1110" y="607" textLength="26" lengthAdjust="spacingAndGlyphs">4'0"x7½"</text>
<text class="lb" x="1203" y="581" textLength="38" lengthAdjust="spacingAndGlyphs">Bedroom</text>
<text class="rd" x="1203" y="594" textLength="38" lengthAdjust="spacingAndGlyphs">11'0"x10'0"</text>
<text class="cb" x="1042" y="564" textLength="17" lengthAdjust="spacingAndGlyphs">C/B</text>
<text class="cb" x="1279" y="564" textLength="17" lengthAdjust="spacingAndGlyphs">C/B</text>
<text class="lb" x="1247" y="733" textLength="24" lengthAdjust="spacingAndGlyphs">Toilet</text>
<text class="rd" x="1247" y="742" textLength="22" lengthAdjust="spacingAndGlyphs">8'3"x4'0"</text>
<text class="sa" x="976" y="742" textLength="157" lengthAdjust="spacingAndGlyphs">S.Area - 1108 sq.ft.</text>
<text class="bk" x="987" y="763" textLength="88" lengthAdjust="spacingAndGlyphs">C-BLOCK</text>
<text class="lb" x="984" y="792" textLength="24" lengthAdjust="spacingAndGlyphs">Living</text>
<text class="rd" x="984" y="810" textLength="50" lengthAdjust="spacingAndGlyphs">17'1½"x14'4½"</text>
<text class="lb" x="1233" y="841" textLength="31" lengthAdjust="spacingAndGlyphs">Kitchen</text>
<text class="rd" x="1233" y="853" textLength="34" lengthAdjust="spacingAndGlyphs">8'3"x10'0"</text>
<text class="lb" x="1296" y="787" style="font-size:17px" textLength="25" lengthAdjust="spacingAndGlyphs">Fridge</text>
<text class="lb" x="1052" y="960" textLength="33" lengthAdjust="spacingAndGlyphs">Balcony</text>
<text class="rd" x="1052" y="974" textLength="38" lengthAdjust="spacingAndGlyphs">17'1½"x4'0"</text>
<text class="lb" x="1249" y="964" style="font-size:18px" textLength="50" lengthAdjust="spacingAndGlyphs">Service Area</text>
<text class="rd" x="1249" y="977" textLength="32" lengthAdjust="spacingAndGlyphs">8'3"x4'0"</text>
<text class="sm" x="1295" y="950" textLength="25" lengthAdjust="spacingAndGlyphs">Washing</text>
<text class="sm" x="1295" y="962" textLength="25" lengthAdjust="spacingAndGlyphs">Machine</text>
<text x="866" y="914" font-size="16" text-anchor="middle" textLength="34" lengthAdjust="spacingAndGlyphs">Staircase</text>
<text x="866" y="928" font-size="10" fill="#a02020" text-anchor="middle" textLength="28" lengthAdjust="spacingAndGlyphs">11'6"x6'6"</text>
<text class="sm" x="841" y="762" style="font-size:9px">UP</text>
<text class="sm" x="879" y="570">D1</text><text class="sm" x="1077" y="675">D</text><text class="sm" x="1143" y="675">D</text><text class="sm" x="1143" y="626">D1</text>
<text class="sm" x="919" y="737">MD</text><text class="sm" x="1184" y="742">D1</text><text class="sm" x="1175" y="790">O</text><text class="sm" x="1213" y="925">D1</text>
<text class="sm" x="1271" y="938">KW</text><text class="sm" x="1052" y="937">FW</text>
<text class="sm" x="845" y="527">V</text><text class="sm" x="950" y="527" style="font-size:9px">W</text><text class="sm" x="1110" y="527">V</text>
<text class="sm" x="1330" y="621" style="font-size:9px">W</text><text class="sm" x="1330" y="733">V</text>
</g>

<!-- Labels: B row2 (B-BLOCK) -->
<g transform="translate(0,483)">
<text class="lb" x="847" y="626" textLength="24" lengthAdjust="spacingAndGlyphs">Toilet</text>
<text class="rd" x="847" y="635" textLength="24" lengthAdjust="spacingAndGlyphs">4'0"x10'0"</text>
<text class="lb" x="1013" y="617" textLength="48" lengthAdjust="spacingAndGlyphs">M.Bedroom</text>
<text class="rd" x="1013" y="632" textLength="50" lengthAdjust="spacingAndGlyphs">12'10½"x10'0"</text>
<text class="lb" x="1110" y="596" textLength="24" lengthAdjust="spacingAndGlyphs">Toilet</text>
<text class="rd" x="1110" y="607" textLength="26" lengthAdjust="spacingAndGlyphs">4'0"x7½"</text>
<text class="lb" x="1203" y="581" textLength="38" lengthAdjust="spacingAndGlyphs">Bedroom</text>
<text class="rd" x="1203" y="594" textLength="38" lengthAdjust="spacingAndGlyphs">11'0"x10'0"</text>
<text class="cb" x="1042" y="564" textLength="17" lengthAdjust="spacingAndGlyphs">C/B</text>
<text class="cb" x="1279" y="564" textLength="17" lengthAdjust="spacingAndGlyphs">C/B</text>
<text class="lb" x="1247" y="733" textLength="24" lengthAdjust="spacingAndGlyphs">Toilet</text>
<text class="rd" x="1247" y="742" textLength="22" lengthAdjust="spacingAndGlyphs">8'3"x4'0"</text>
<text class="sa" x="976" y="740" textLength="157" lengthAdjust="spacingAndGlyphs">S.Area - 1108 sq.ft.</text>
<text class="bk" x="1000" y="763" textLength="88" lengthAdjust="spacingAndGlyphs">B-BLOCK</text>
<text class="lb" x="984" y="792" textLength="24" lengthAdjust="spacingAndGlyphs">Living</text>
<text class="rd" x="984" y="810" textLength="50" lengthAdjust="spacingAndGlyphs">17'1½"x14'4½"</text>
<text class="lb" x="1233" y="841" textLength="31" lengthAdjust="spacingAndGlyphs">Kitchen</text>
<text class="rd" x="1233" y="853" textLength="34" lengthAdjust="spacingAndGlyphs">8'3"x10'0"</text>
<text class="lb" x="1296" y="787" style="font-size:17px" textLength="25" lengthAdjust="spacingAndGlyphs">Fridge</text>
<text class="lb" x="1052" y="960" textLength="33" lengthAdjust="spacingAndGlyphs">Balcony</text>
<text class="rd" x="1052" y="974" textLength="38" lengthAdjust="spacingAndGlyphs">17'1½"x4'0"</text>
<text class="lb" x="1249" y="964" style="font-size:18px" textLength="50" lengthAdjust="spacingAndGlyphs">Service Area</text>
<text class="rd" x="1249" y="977" textLength="32" lengthAdjust="spacingAndGlyphs">8'3"x4'0"</text>
<text class="sm" x="1295" y="950" textLength="25" lengthAdjust="spacingAndGlyphs">Washing</text>
<text class="sm" x="1295" y="962" textLength="25" lengthAdjust="spacingAndGlyphs">Machine</text>
<text x="866" y="914" font-size="16" text-anchor="middle" textLength="34" lengthAdjust="spacingAndGlyphs">Staircase</text>
<text x="866" y="928" font-size="10" fill="#a02020" text-anchor="middle" textLength="28" lengthAdjust="spacingAndGlyphs">11'6"x6'6"</text>
<text class="sm" x="841" y="762" style="font-size:9px">UP</text>
<text class="sm" x="879" y="570">D1</text><text class="sm" x="1077" y="675">D</text><text class="sm" x="1143" y="675">D</text><text class="sm" x="1143" y="626">D1</text>
<text class="sm" x="919" y="737">MD</text><text class="sm" x="1184" y="742">D1</text><text class="sm" x="1175" y="790">O</text><text class="sm" x="1213" y="925">D1</text>
<text class="sm" x="1271" y="938">KW</text><text class="sm" x="1052" y="937">FW</text>
<text class="sm" x="845" y="524">V</text><text class="sm" x="950" y="524" style="font-size:9px">W</text><text class="sm" x="1110" y="524">V</text>
<text class="sm" x="1330" y="621" style="font-size:9px">W</text><text class="sm" x="1330" y="733">V</text>
</g>

<!-- Labels: C (row2 left, A-BLOCK 1098) -->
<g>
<text class="lb" x="227" y="1099" style="font-size:18px" textLength="50" lengthAdjust="spacingAndGlyphs">Service Area</text>
<text class="rd" x="227" y="1112" textLength="32" lengthAdjust="spacingAndGlyphs">8'0"x4'0"</text>
<text class="sm" x="240" y="1040" textLength="25" lengthAdjust="spacingAndGlyphs">Washing</text>
<text class="sm" x="240" y="1052" textLength="25" lengthAdjust="spacingAndGlyphs">Machine</text>
<text class="lb" x="282" y="1048" style="font-size:17px" textLength="26" lengthAdjust="spacingAndGlyphs">Fridge</text>
<text class="lb" x="336" y="1104" textLength="31" lengthAdjust="spacingAndGlyphs">Kitchen</text>
<text class="rd" x="336" y="1117" textLength="38" lengthAdjust="spacingAndGlyphs">11'0"x10'0"</text>
<text class="lb" x="466" y="1078" textLength="24" lengthAdjust="spacingAndGlyphs">Toilet</text>
<text class="rd" x="466" y="1090" textLength="26" lengthAdjust="spacingAndGlyphs">4'0"x7½"</text>
<text class="lb" x="636" y="1103" textLength="38" lengthAdjust="spacingAndGlyphs">Bedroom</text>
<text class="rd" x="636" y="1115" textLength="38" lengthAdjust="spacingAndGlyphs">13'0"x10'0"</text>
<text class="cb" x="667" y="1175" textLength="17" lengthAdjust="spacingAndGlyphs">C/B</text>
<text class="lb" x="255" y="1216" textLength="24" lengthAdjust="spacingAndGlyphs">Toilet</text>
<text class="rd" x="255" y="1226" textLength="28" lengthAdjust="spacingAndGlyphs">6'7½"x4'0"</text>
<text class="sa" x="382" y="1224" textLength="160" lengthAdjust="spacingAndGlyphs">S.Area - 1098 sq.ft.</text>
<text class="bk" x="448" y="1248" textLength="89" lengthAdjust="spacingAndGlyphs">A-BLOCK</text>
<text class="lb" x="428" y="1253" textLength="24" lengthAdjust="spacingAndGlyphs">Living</text>
<text class="rd" x="428" y="1268" textLength="48" lengthAdjust="spacingAndGlyphs">15'1½"x14'4½"</text>
<text class="lb" x="325" y="1350" textLength="47" lengthAdjust="spacingAndGlyphs">M.Bedroom</text>
<text class="rd" x="325" y="1362" textLength="40" lengthAdjust="spacingAndGlyphs">10'0"x14'0"</text>
<text x="649" y="1398" font-size="16" text-anchor="middle" textLength="34" lengthAdjust="spacingAndGlyphs">Staircase</text>
<text x="649" y="1411" font-size="10" fill="#a02020" text-anchor="middle" textLength="28" lengthAdjust="spacingAndGlyphs">11'6"x6'6"</text>
<text class="sm" x="672" y="1246" style="font-size:9px">UP</text>
<text class="lb" x="467" y="1442" textLength="33" lengthAdjust="spacingAndGlyphs">Balcony</text>
<text class="rd" x="467" y="1457" textLength="38" lengthAdjust="spacingAndGlyphs">15'1½"x4'0"</text>
<text class="sm" x="467" y="1418">FW</text>
<text class="cb" x="237" y="1454" textLength="17" lengthAdjust="spacingAndGlyphs">C/B</text>
<text class="sm" x="349" y="1009">KW</text><text class="sm" x="467" y="1009">V</text><text class="sm" x="615" y="1009" style="font-size:9px">W</text>
<text class="sm" x="187" y="1220">V</text><text class="sm" x="186" y="1325" style="font-size:9px">W</text>
<text class="sm" x="264" y="1161">D1</text><text class="sm" x="477" y="1129">D1</text><text class="sm" x="499" y="1156">D</text><text class="sm" x="409" y="1197">O</text>
<text class="sm" x="595" y="1218">MD</text><text class="sm" x="225" y="1247">D1</text><text class="sm" x="334" y="1250">D</text>
</g>

<!-- Labels: D (row3 right, B-BLOCK 1272) -->
<g>
<text class="lb" x="847" y="1553" textLength="24" lengthAdjust="spacingAndGlyphs">Toilet</text>
<text class="rd" x="847" y="1565" textLength="26" lengthAdjust="spacingAndGlyphs">4'0"x7½"</text>
<text class="lb" x="1013" y="1585" textLength="48" lengthAdjust="spacingAndGlyphs">M.Bedroom</text>
<text class="rd" x="1013" y="1599" textLength="50" lengthAdjust="spacingAndGlyphs">12'10½"x10'0"</text>
<text class="lb" x="1110" y="1562" textLength="24" lengthAdjust="spacingAndGlyphs">Toilet</text>
<text class="rd" x="1110" y="1573" textLength="26" lengthAdjust="spacingAndGlyphs">4'0"x7½"</text>
<text class="lb" x="1203" y="1550" textLength="38" lengthAdjust="spacingAndGlyphs">Bedroom</text>
<text class="rd" x="1203" y="1561" textLength="38" lengthAdjust="spacingAndGlyphs">11'0"x10'0"</text>
<text class="cb" x="1042" y="1529" textLength="17" lengthAdjust="spacingAndGlyphs">C/B</text>
<text class="cb" x="1279" y="1529" textLength="17" lengthAdjust="spacingAndGlyphs">C/B</text>
<text class="lb" x="1247" y="1698" textLength="24" lengthAdjust="spacingAndGlyphs">Toilet</text>
<text class="rd" x="1247" y="1708" textLength="22" lengthAdjust="spacingAndGlyphs">8'3"x4'0"</text>
<text class="sa" x="833" y="1707" textLength="159" lengthAdjust="spacingAndGlyphs">S.Area - 1272 sq.ft.</text>
<text class="lb" x="1060" y="1700" textLength="24" lengthAdjust="spacingAndGlyphs">Living</text>
<text class="rd" x="1060" y="1716" textLength="46" lengthAdjust="spacingAndGlyphs">14'0"x14'4½"</text>
<text class="bk" x="982" y="1738" textLength="86" lengthAdjust="spacingAndGlyphs">B-BLOCK</text>
<text class="lb" x="873" y="1768" textLength="38" lengthAdjust="spacingAndGlyphs">Bedroom</text>
<text class="rd" x="873" y="1782" textLength="38" lengthAdjust="spacingAndGlyphs">10'0"x14'0"</text>
<text class="lb" x="1233" y="1806" textLength="31" lengthAdjust="spacingAndGlyphs">Kitchen</text>
<text class="rd" x="1233" y="1818" textLength="34" lengthAdjust="spacingAndGlyphs">8'3"x10'0"</text>
<text class="lb" x="1296" y="1752" style="font-size:17px" textLength="25" lengthAdjust="spacingAndGlyphs">Fridge</text>
<text class="lb" x="1075" y="1927" textLength="33" lengthAdjust="spacingAndGlyphs">Balcony</text>
<text class="rd" x="1075" y="1939" textLength="34" lengthAdjust="spacingAndGlyphs">14'0"x4'0"</text>
<text class="sm" x="1075" y="1903">FW</text>
<text class="lb" x="1249" y="1927" style="font-size:18px" textLength="50" lengthAdjust="spacingAndGlyphs">Service Area</text>
<text class="rd" x="1249" y="1940" textLength="32" lengthAdjust="spacingAndGlyphs">8'3"x4'0"</text>
<text class="sm" x="1295" y="1915" textLength="25" lengthAdjust="spacingAndGlyphs">Washing</text>
<text class="sm" x="1295" y="1927" textLength="25" lengthAdjust="spacingAndGlyphs">Machine</text>
<text class="cb" x="847" y="1937" textLength="17" lengthAdjust="spacingAndGlyphs">C/B</text>
<text class="sm" x="879" y="1535">D1</text><text class="sm" x="810" y="1640">MD</text><text class="sm" x="1077" y="1640">D</text><text class="sm" x="1143" y="1640">D</text>
<text class="sm" x="1143" y="1591">D1</text><text class="sm" x="1184" y="1707">D1</text><text class="sm" x="945" y="1737">D</text><text class="sm" x="1175" y="1757">O</text>
<text class="sm" x="1213" y="1890">D1</text><text class="sm" x="1271" y="1903">KW</text>
<text class="sm" x="845" y="1492">V</text><text class="sm" x="950" y="1492" style="font-size:9px">W</text><text class="sm" x="1110" y="1492">V</text>
<text class="sm" x="1330" y="1587" style="font-size:9px">W</text><text class="sm" x="1330" y="1698">V</text><text class="sm" x="924" y="1967">V</text>
</g>

<!-- Road -->
<path d="M76 1978 L1472 1969" stroke="#000" stroke-width="5" fill="none"/>
<path d="M76 2107 L1472 2098" stroke="#000" stroke-width="5" fill="none"/>
<path d="M76 1973 V2040 Q69 2044 73 2049 Q78 2052 70 2056 Q76 2060 76 2064 V2113" stroke="#000" stroke-width="2.5" fill="none"/>
<path d="M1472 1963 V2032 Q1465 2036 1469 2041 Q1474 2044 1466 2048 Q1472 2052 1472 2056 V2105" stroke="#000" stroke-width="2.5" fill="none"/>
<path class="gy" d="M143 2015 L1407 2007 M143 2007 V2023 M1407 1999 V2015"/>
<rect x="746" y="1993" width="62" height="36" fill="#fff"/>
<text class="dm" x="750" y="2027" font-size="40" textLength="53" lengthAdjust="spacingAndGlyphs">84'-7"</text>
<text class="dm" transform="translate(213,2005) rotate(-90)" font-size="22" text-anchor="middle" textLength="50" lengthAdjust="spacingAndGlyphs">1'-9 1/2"</text>
<text class="dm" transform="translate(1320,1998) rotate(-90)" font-size="22" text-anchor="middle" textLength="50" lengthAdjust="spacingAndGlyphs">1'-3 1/2"</text>
<text x="671" y="2090" font-size="79" textLength="230" lengthAdjust="spacingAndGlyphs">.*. Road .*.</text>
<text x="623" y="2202" font-size="75" font-weight="bold" textLength="345" lengthAdjust="spacingAndGlyphs">FINAL FLOOR PLAN</text>

<!-- Compass -->
<g>
<g fill="#8a9a10" stroke="#b8c820" stroke-width=".8">
<polygon points="1593.6,1672.5 1585.3,1708.1 1576,1715 1574.3,1703.5"/>
<polygon points="1618.5,1697.4 1587.5,1716.7 1576,1715 1582.9,1705.7"/>
<polygon points="1618.5,1732.6 1582.9,1724.3 1576,1715 1587.5,1713.3"/>
<polygon points="1593.6,1757.5 1574.3,1726.5 1576,1715 1585.3,1721.9"/>
<polygon points="1558.4,1757.5 1566.7,1721.9 1576,1715 1577.7,1726.5"/>
<polygon points="1533.5,1732.6 1564.5,1713.3 1576,1715 1569.1,1724.3"/>
<polygon points="1533.5,1697.4 1569.1,1705.7 1576,1715 1564.5,1716.7"/>
<polygon points="1558.4,1672.5 1577.7,1703.5 1576,1715 1566.7,1708.1"/>
</g>
<g fill="#f5820a" stroke="#f08010" stroke-width="1">
<polygon points="1628,1663 1588,1713 1576,1715 1578,1703"/>
<polygon points="1628,1767 1578,1727 1576,1715 1588,1717"/>
<polygon points="1524,1767 1564,1717 1576,1715 1574,1727"/>
<polygon points="1524,1663 1574,1703 1576,1715 1564,1713"/>
<polygon points="1576,1552 1584,1707 1576,1715 1568,1707"/>
<polygon points="1576,1840 1568,1723 1576,1715 1584,1723"/>
<polygon points="1671,1715 1584,1723 1576,1715 1584,1707"/>
<polygon points="1482,1715 1568,1707 1576,1715 1568,1723"/>
</g>
<path d="M1577 1560 L1580 1710 M1575 1832 L1572 1722 M1665 1716 L1584 1719 M1488 1714 L1568 1711 M1622 1668 L1583 1710 M1530 1762 L1570 1720" stroke="#fff" stroke-width="1.2" fill="none"/>
<text x="1577" y="1540" font-size="54" font-weight="bold" text-anchor="middle" textLength="14" lengthAdjust="spacingAndGlyphs">N</text>
<text x="1468" y="1736" font-size="54" font-weight="bold" text-anchor="middle" textLength="18" lengthAdjust="spacingAndGlyphs">W</text>
<text x="1684" y="1733" font-size="54" font-weight="bold" text-anchor="middle" textLength="12" lengthAdjust="spacingAndGlyphs">E</text>
<text x="1577" y="1890" font-size="54" font-weight="bold" text-anchor="middle" textLength="11" lengthAdjust="spacingAndGlyphs">S</text>
</g>
</svg>
</body></html>
